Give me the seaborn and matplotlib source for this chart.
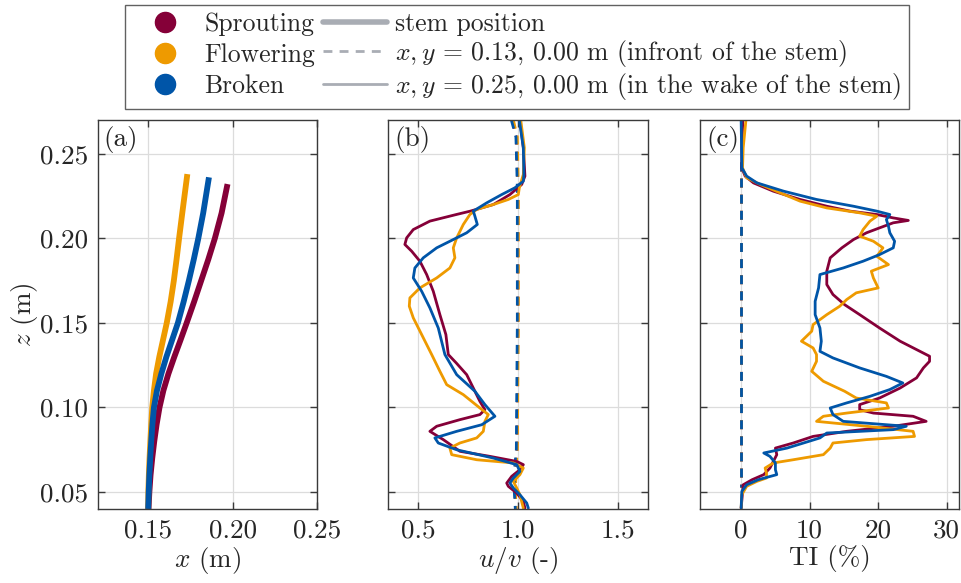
import numpy as np
import pandas as pd
import matplotlib
matplotlib.use("Agg")
import matplotlib.pyplot as plt
from matplotlib.lines import Line2D
import seaborn as sns

# ---------------- data ----------------
cases = ["Sprouting", "Flowering", "Broken"]
colors = {"Sprouting": "#850038", "Flowering": "#EE9A00", "Broken": "#0055A8"}

# (a) stem positions
stem_z = {
    "Sprouting": [0.04, 0.05, 0.06, 0.07, 0.08, 0.09, 0.10, 0.11, 0.12, 0.13, 0.14, 0.15,
                  0.1625, 0.175, 0.1875, 0.20, 0.215, 0.2321],
    "Flowering": [0.04, 0.05, 0.06, 0.07, 0.08, 0.09, 0.10, 0.11, 0.12, 0.13, 0.14, 0.15,
                  0.1625, 0.175, 0.1875, 0.20, 0.215, 0.2380],
    "Broken":    [0.04, 0.05, 0.06, 0.07, 0.08, 0.09, 0.10, 0.11, 0.12, 0.13, 0.14, 0.15,
                  0.1625, 0.175, 0.1875, 0.20, 0.215, 0.2361],
}
stem_x = {
    "Sprouting": [0.1502, 0.1507, 0.1514, 0.1524, 0.1536, 0.1550, 0.1567, 0.1590, 0.1620,
                  0.1655, 0.1692, 0.1728, 0.1772, 0.1814, 0.1856, 0.1895, 0.1935, 0.1970],
    "Flowering": [0.1500, 0.1501, 0.1504, 0.1508, 0.1513, 0.1518, 0.1524, 0.1534, 0.1547,
                  0.1566, 0.1588, 0.1610, 0.1633, 0.1652, 0.1668, 0.1683, 0.1702, 0.1732],
    "Broken":    [0.1500, 0.1503, 0.1507, 0.1512, 0.1518, 0.1525, 0.1534, 0.1552, 0.1578,
                  0.1608, 0.1642, 0.1676, 0.1710, 0.1741, 0.1770, 0.1797, 0.1826, 0.1860],
}

# (b) u/v profiles in the wake
uv_z = {
    "Sprouting": [0.27, 0.2536, 0.2368, 0.2319, 0.2259, 0.2200, 0.2161, 0.2141, 0.2102, 0.2052,
                  0.2003, 0.1964, 0.1924, 0.1865, 0.1786, 0.1687, 0.1549, 0.1431, 0.1313, 0.1263,
                  0.1194, 0.1115, 0.1036, 0.0987, 0.0958, 0.0928, 0.0889, 0.0859, 0.0810, 0.0741,
                  0.0711, 0.0681, 0.0662, 0.0632, 0.0593, 0.0553, 0.0534, 0.0494, 0.0445, 0.0405],
    "Flowering": [0.27, 0.2536, 0.2378, 0.2299, 0.2259, 0.2230, 0.2200, 0.2171, 0.2141, 0.2082,
                  0.2003, 0.1944, 0.1885, 0.1825, 0.1766, 0.1707, 0.1648, 0.1599, 0.1530, 0.1431,
                  0.1313, 0.1214, 0.1135, 0.1076, 0.0997, 0.0958, 0.0918, 0.0859, 0.0820, 0.0790,
                  0.0760, 0.0721, 0.0691, 0.0672, 0.0642, 0.0603, 0.0563, 0.0524, 0.0484, 0.0405],
    "Broken":    [0.27, 0.2536, 0.2378, 0.2338, 0.2299, 0.2259, 0.2210, 0.2161, 0.2131, 0.2082,
                  0.2033, 0.1993, 0.1944, 0.1885, 0.1825, 0.1766, 0.1687, 0.1589, 0.1470, 0.1313,
                  0.1194, 0.1096, 0.1017, 0.0948, 0.0898, 0.0859, 0.0820, 0.0790, 0.0750, 0.0701,
                  0.0662, 0.0622, 0.0583, 0.0553, 0.0524, 0.0484, 0.0435, 0.0405],
}
uv_wake = {
    "Sprouting": [1.008, 1.025, 1.033, 1.017, 0.958, 0.875, 0.76, 0.69, 0.558, 0.475,
                  0.442, 0.433, 0.467, 0.508, 0.542, 0.575, 0.608, 0.638, 0.65, 0.69,
                  0.742, 0.775, 0.808, 0.833, 0.808, 0.708, 0.592, 0.558, 0.625, 0.708,
                  0.858, 0.992, 1.025, 1.008, 0.967, 0.942, 0.95, 0.992, 1.025, 1.033],
    "Flowering": [1.012, 1.03, 1.025, 1.005, 1.0, 0.95, 0.875, 0.792, 0.758, 0.725,
                  0.692, 0.675, 0.683, 0.658, 0.592, 0.508, 0.458, 0.455, 0.475, 0.517,
                  0.567, 0.608, 0.642, 0.725, 0.808, 0.85, 0.833, 0.825, 0.792, 0.708,
                  0.658, 0.667, 0.792, 0.975, 1.025, 1.008, 0.975, 0.992, 1.008, 1.025],
    "Broken":    [1.005, 1.025, 1.028, 1.025, 0.983, 0.917, 0.842, 0.775, 0.783, 0.795,
                  0.742, 0.675, 0.592, 0.525, 0.483, 0.475, 0.517, 0.558, 0.6, 0.633,
                  0.692, 0.783, 0.833, 0.883, 0.817, 0.692, 0.583, 0.6, 0.692, 0.875,
                  0.992, 1.008, 0.975, 0.958, 0.975, 1.008, 1.042, 1.05],
}
# (b) u/v in front of the stem
front_z = [0.27, 0.26, 0.23, 0.15, 0.075, 0.065, 0.05, 0.04]
uv_front = {
    "Sprouting": [0.970, 0.990, 0.998, 0.998, 0.993, 0.988, 0.983, 0.988],
    "Flowering": [0.975, 0.995, 1.000, 1.000, 0.995, 0.990, 0.985, 0.990],
    "Broken":    [0.965, 0.988, 0.995, 0.995, 0.990, 0.982, 0.980, 0.985],
}

# (c) turbulence intensity in the wake
ti_z = {
    "Sprouting": [0.27, 0.2536, 0.2417, 0.2368, 0.2328, 0.2279, 0.2230, 0.2190, 0.2161, 0.2141,
                  0.2121, 0.2106, 0.2092, 0.2062, 0.2033, 0.1993, 0.1944, 0.1885, 0.1806, 0.1727,
                  0.1668, 0.1608, 0.1549, 0.1470, 0.1392, 0.1332, 0.1303, 0.1273, 0.1234, 0.1175,
                  0.1115, 0.1056, 0.1017, 0.0987, 0.0967, 0.0948, 0.0918, 0.0889, 0.0859, 0.0829,
                  0.0790, 0.0760, 0.0721, 0.0681, 0.0642, 0.0603, 0.0573, 0.0543, 0.0405],
    "Flowering": [0.27, 0.2536, 0.2417, 0.2358, 0.2319, 0.2269, 0.2220, 0.2180, 0.2151, 0.2131,
                  0.2102, 0.2052, 0.2013, 0.1983, 0.1944, 0.1894, 0.1845, 0.1806, 0.1766, 0.1707,
                  0.1678, 0.1638, 0.1599, 0.1549, 0.1490, 0.1451, 0.1392, 0.1352, 0.1313, 0.1273,
                  0.1214, 0.1155, 0.1096, 0.1056, 0.1027, 0.0997, 0.0967, 0.0948, 0.0918, 0.0889,
                  0.0859, 0.0829, 0.0810, 0.0790, 0.0760, 0.0721, 0.0691, 0.0672, 0.0642, 0.0612,
                  0.0583, 0.0563, 0.0534, 0.0484, 0.0405],
    "Broken":    [0.27, 0.2417, 0.2368, 0.2328, 0.2279, 0.2230, 0.2190, 0.2161, 0.2141, 0.2111,
                  0.2072, 0.2033, 0.1983, 0.1944, 0.1904, 0.1865, 0.1825, 0.1786, 0.1707, 0.1628,
                  0.1549, 0.1470, 0.1392, 0.1332, 0.1293, 0.1234, 0.1184, 0.1145, 0.1106, 0.1066,
                  0.1027, 0.0997, 0.0958, 0.0918, 0.0889, 0.0869, 0.0849, 0.0820, 0.0790, 0.0760,
                  0.0731, 0.0711, 0.0672, 0.0632, 0.0603, 0.0573, 0.0543, 0.0504, 0.0405],
}
ti_wake = {
    "Sprouting": [0.24, 0.1, 0.1, 0.58, 1.8, 4.7, 8.6, 12.5, 15.9, 19.8,
                  22.2, 24.4, 22.2, 20.2, 18.3, 16.4, 14.7, 13.0, 12.5, 12.5,
                  13.4, 15.1, 17.3, 20.2, 23.2, 26.1, 27.5, 27.5, 26.6, 25.6,
                  23.2, 20.2, 17.3, 17.3, 19.3, 25.1, 27.0, 22.2, 15.4, 10.5,
                  7.6, 5.0, 5.2, 4.7, 4.2, 3.3, 1.6, 0.3, 0.0],
    "Flowering": [0.7, 0.3, 0.2, 0.8, 2.8, 5.7, 8.6, 12.5, 17.3, 19.8,
                  18.8, 17.8, 17.3, 19.3, 20.7, 19.8, 21.5, 19.0, 19.3, 20.0,
                  16.8, 15.4, 14.4, 12.5, 10.5, 10.3, 8.8, 10.5, 11.0, 11.0,
                  10.3, 12.0, 15.1, 16.8, 21.2, 21.5, 15.4, 12.0, 11.0, 18.3,
                  25.1, 25.3, 18.3, 13.4, 13.0, 12.0, 7.6, 4.7, 3.5, 3.7,
                  3.7, 2.3, 0.8, 0.1, 0.0],
    "Broken":    [0.0, 0.1, 0.8, 2.3, 6.2, 11.0, 16.4, 19.8, 21.7, 21.2,
                  21.5, 21.7, 22.4, 22.2, 20.2, 17.8, 14.9, 11.5, 11.3, 10.8,
                  10.8, 11.5, 11.7, 11.5, 13.4, 17.3, 21.2, 23.6, 21.7, 18.8,
                  15.4, 13.0, 13.4, 14.9, 24.1, 22.2, 12.5, 11.5, 9.1, 6.7,
                  3.3, 4.2, 5.0, 5.0, 5.2, 2.5, 0.8, 0.1, 0.0],
}
ti_front_z = [0.245, 0.20, 0.15, 0.10, 0.053]
ti_front = {
    "Sprouting": [0.05, 0.05, 0.05, 0.05, 0.05],
    "Flowering": [0.05, 0.05, 0.05, 0.05, 0.05],
    "Broken":    [0.05, 0.05, 0.05, 0.05, 0.05],
}

legend_labels = ["stem position",
                 r"$x, y$ = 0.13, 0.00 m (infront of the stem)",
                 r"$x, y$ = 0.25, 0.00 m (in the wake of the stem)"]

# ---------------- style ----------------
sns.set_style("ticks")
plt.rcParams["font.family"] = ["cmr10", "DejaVu Serif"]
plt.rcParams["mathtext.fontset"] = "cm"
plt.rcParams["axes.formatter.use_mathtext"] = True
plt.rcParams["axes.unicode_minus"] = False

FS = 19.5
LFS = 19.5
LEGFS = 18.5
frame_col = "#3a3a3a"
grid_col = "#dcdcdc"
legend_gray = "#a9adb4"

fig = plt.figure(figsize=(9.62, 5.83), dpi=100)
bottom, top = 0.127, 0.7942
ax_a = fig.add_axes([0.1014, bottom, 0.3295 - 0.1014, top - bottom])
ax_b = fig.add_axes([0.4036, bottom, 0.6740 - 0.4036, top - bottom])
ax_c = fig.add_axes([0.7277, bottom, 0.9969 - 0.7277, top - bottom])

# (a)
for c in cases:
    sns.lineplot(x=stem_x[c], y=stem_z[c], sort=False, estimator=None, ax=ax_a,
                 color=colors[c], linewidth=4.2, solid_capstyle="butt",
                 solid_joinstyle="round")
# (b)
for c in cases:
    sns.lineplot(x=uv_front[c], y=front_z, sort=False, estimator=None, ax=ax_b,
                 color=colors[c], linewidth=2.0, linestyle=(0, (3.2, 2.6)))
for c in cases:
    sns.lineplot(x=uv_wake[c], y=uv_z[c], sort=False, estimator=None, ax=ax_b,
                 color=colors[c], linewidth=2.0)
# (c)
for c in cases:
    sns.lineplot(x=ti_front[c], y=ti_front_z, sort=False, estimator=None, ax=ax_c,
                 color=colors[c], linewidth=2.0, linestyle=(0, (3.2, 2.6)))
for c in cases:
    sns.lineplot(x=ti_wake[c], y=ti_z[c], sort=False, estimator=None, ax=ax_c,
                 color=colors[c], linewidth=2.0)

yticks = [0.05, 0.10, 0.15, 0.20, 0.25]
ax_a.set_xlim(0.12, 0.25)
ax_a.set_xticks([0.15, 0.20, 0.25])
ax_a.set_xticklabels(["0.15", "0.20", "0.25"])
ax_b.set_xlim(0.35, 1.65)
ax_b.set_xticks([0.5, 1.0, 1.5])
ax_b.set_xticklabels(["0.5", "1.0", "1.5"])
ax_c.set_xlim(-6, 31.8)
ax_c.set_xticks([0, 10, 20, 30])
ax_c.set_xticklabels(["0", "10", "20", "30"])

for ax, letter in zip([ax_a, ax_b, ax_c], ["(a)", "(b)", "(c)"]):
    ax.set_ylim(0.04, 0.27)
    ax.set_yticks(yticks)
    ax.grid(True, color=grid_col, linewidth=0.9)
    ax.set_axisbelow(True)
    for s in ax.spines.values():
        s.set_visible(True)
        s.set_color(frame_col)
        s.set_linewidth(1.0)
    ax.tick_params(direction="in", length=5, width=1.0, color=frame_col,
                   top=True, right=True, labelsize=FS, pad=7)
    ax.text(0.025, 0.985, letter, transform=ax.transAxes, ha="left", va="top",
            fontsize=FS)

ax_a.set_yticklabels(["0.05", "0.10", "0.15", "0.20", "0.25"])
ax_b.set_yticklabels([])
ax_c.set_yticklabels([])
ax_a.set_ylabel(r"$z$ (m)", fontsize=LFS, labelpad=0)
ax_a.set_xlabel(r"$x$ (m)", fontsize=LFS, labelpad=2)
ax_b.set_xlabel(r"$u/v$ (-)", fontsize=LFS, labelpad=2)
ax_c.set_xlabel("TI (%)", fontsize=LFS, labelpad=2)
ax_b.set_ylabel("")
ax_c.set_ylabel("")

# legend
handles = [Line2D([], [], linestyle="none", marker="o", markersize=14.5,
                  markerfacecolor=colors[c], markeredgecolor=colors[c]) for c in cases]
handles += [Line2D([], [], color=legend_gray, linewidth=4.0),
            Line2D([], [], color=legend_gray, linewidth=2.0, linestyle=(0, (3.2, 2.6))),
            Line2D([], [], color=legend_gray, linewidth=2.0)]
labels = cases + legend_labels
leg = fig.legend(handles, labels, ncol=2, loc="upper center",
                 bbox_to_anchor=(517 / 962, 1 - 5 / 583), borderaxespad=0,
                 fontsize=LEGFS, frameon=True, fancybox=False, edgecolor=frame_col,
                 handlelength=2.5, handletextpad=0.3, columnspacing=0.3,
                 labelspacing=0.06, borderpad=0.3)
leg.get_frame().set_linewidth(1.0)

# make the rows of both legend columns share the same baselines
fig.canvas.draw()
renderer = fig.canvas.get_renderer()
cols = leg._legend_handle_box.get_children()


def _baselines(col):
    out = []
    for row in col.get_children():
        bb = row.get_bbox(renderer)
        ext = row.get_window_extent(renderer)
        out.append(ext.y0 - bb.y0)
    return out


b1 = _baselines(cols[0])
b2 = _baselines(cols[1])
p1 = (b1[0] - b1[-1]) / (len(b1) - 1)
p2 = (b2[0] - b2[-1]) / (len(b2) - 1)
cols[0].sep += (p2 - p1) / renderer.points_to_pixels(1.0)

fig.savefig("out.png", dpi=100)
